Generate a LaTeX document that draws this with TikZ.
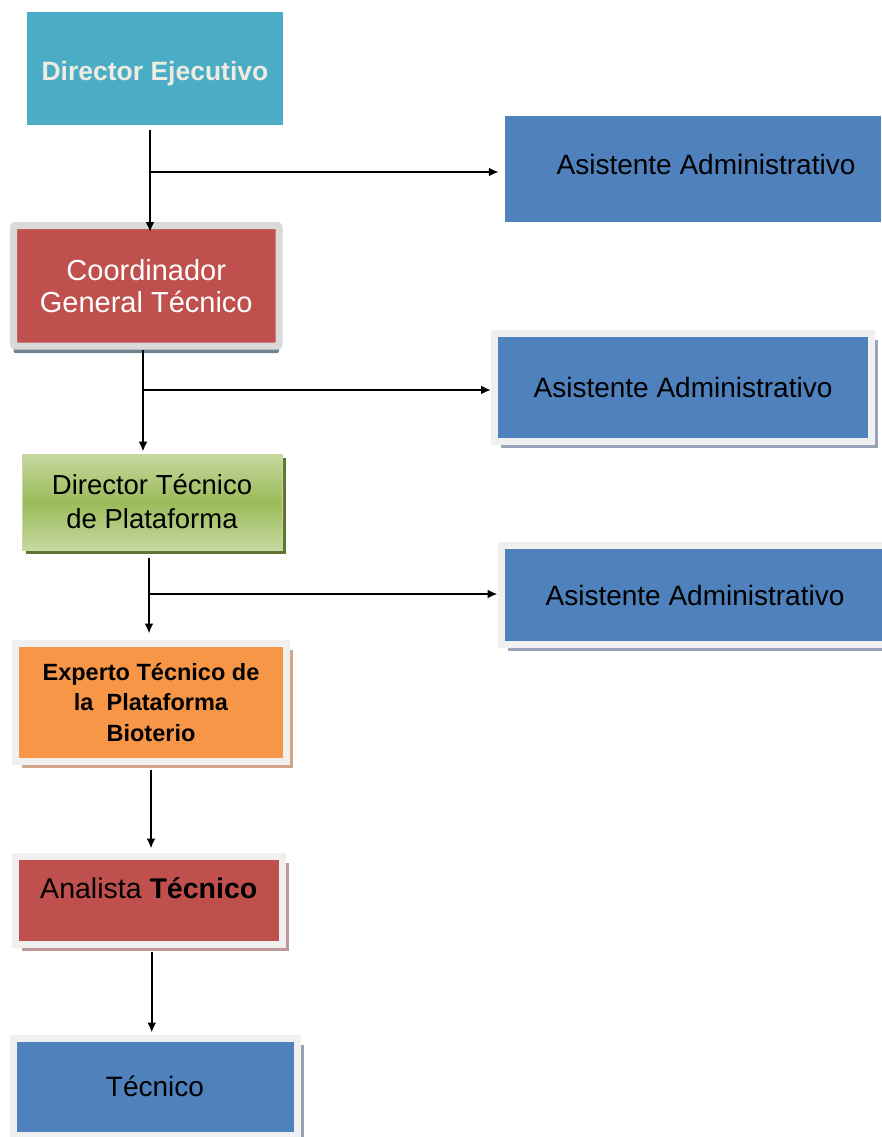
\documentclass[tikz,border=0pt]{standalone}
\usepackage{fontspec}
\setmainfont{Liberation Sans}
\usetikzlibrary{arrows.meta, shadows}

\definecolor{cTeal}{HTML}{4BACC6}
\definecolor{cCream}{HTML}{EEECE1}
\definecolor{cBlue}{HTML}{4F81BD}
\definecolor{cRed}{HTML}{C0504D}
\definecolor{cOrange}{HTML}{F79646}
\definecolor{cGreen}{HTML}{9BBB59}
\definecolor{cGreenL}{HTML}{C6D9A0}
\definecolor{cGreenD}{HTML}{5F7530}
\definecolor{cFrame}{HTML}{F0F0F0}
\definecolor{cFrameD}{HTML}{D9D9D9}
\definecolor{cShBlue}{HTML}{97A3B6}
\definecolor{cShSlate}{HTML}{6F8290}
\definecolor{cShTan}{HTML}{D4A686}
\definecolor{cShRose}{HTML}{BC9898}

\tikzset{
  box/.style={rectangle, inner sep=0pt, align=center,
    font=\fontsize{28}{33}\selectfont},
  framed/.style={box, draw=cFrame, line width=7pt},
  shad/.style={drop shadow={shadow xshift=#1, shadow yshift=-6.5pt, fill=cShBlue, opacity=1}},
  arr/.style={-{Latex[length=10pt,width=9pt]}, line width=2pt},
}

\begin{document}
\begin{tikzpicture}[x=1pt, y=-1pt]
    \useasboundingbox (0,0) rectangle (881,1137);

    % left column
    \node[box, fill=cTeal, text=cCream, minimum width=256pt, minimum height=113pt,
      text height=24pt, text depth=0pt,
      font=\fontsize{26.5}{30}\selectfont\bfseries] (dirEj) at (155,68.5) {Director Ejecutivo};
    \node[framed, draw=cFrameD, rounded corners=2pt, fill=cRed, text=white,
      minimum width=265.5pt, minimum height=120.5pt, font=\fontsize{29}{32}\selectfont,
      drop shadow={shadow xshift=0pt, shadow yshift=-7pt, fill=cShSlate, opacity=1}]
      (coord) at (146.25,285.75) {Coordinador\\General Técnico};
    \node[box, draw=cGreenL, line width=0.8pt, top color=cGreenL, bottom color=cGreenL,
      middle color=cGreen, minimum width=260pt, minimum height=96pt,
      font=\fontsize{27.5}{34}\selectfont,
      drop shadow={shadow xshift=4pt, shadow yshift=-4pt, fill=cGreenD, opacity=1}]
      (dirTec) at (152,502) {Director Técnico\\de Plataforma};
    \node[framed, fill=cOrange, minimum width=271pt, minimum height=118.5pt,
      font=\fontsize{23.5}{30.5}\selectfont\bfseries,
      drop shadow={shadow xshift=6.5pt, shadow yshift=-6.5pt, fill=cShTan, opacity=1}]
      (experto) at (151,702.25) {Experto Técnico de\\la\ \ Plataforma\\Bioterio};
    \node[framed, fill=cRed, minimum width=266.5pt, minimum height=88.5pt,
      text height=20pt, text depth=24pt, font=\fontsize{28.5}{33}\selectfont,
      drop shadow={shadow xshift=6.5pt, shadow yshift=-6.5pt, fill=cShRose, opacity=1}]
      (analista) at (148.75,900.25) {Analista \textbf{Técnico}};
    \node[framed, fill=cBlue, minimum width=284pt, minimum height=97pt, shad=6.5pt]
      (tecnico) at (155,1086.5) {Técnico};

    % right column
    \node[box, fill=cBlue, minimum width=376pt, minimum height=106pt,
      text height=20pt, text depth=10pt] (asisA) at (693,169) {\hspace*{26pt}Asistente Administrativo};
    \node[framed, fill=cBlue, minimum width=377pt, minimum height=107.5pt, shad=6.5pt]
      (asisB) at (683,387.25) {Asistente Administrativo};
    \node[framed, fill=cBlue, minimum width=388pt, minimum height=99pt, shad=6.5pt]
      (asisC) at (695,595) {Asistente Administrativo};

    % connectors
    \coordinate (jA) at (150,172);
    \coordinate (jB) at (143,390);
    \coordinate (jC) at (149,594);
    \draw[arr, shorten <=5pt, shorten >=-10pt] (jA |- dirEj.south) -- (jA |- coord.north);
    \draw[arr, shorten >=6pt] (jA) -- (jA -| asisA.west);
    \draw[arr, shorten >=2pt] (jB |- coord.south) -- (jB |- dirTec.north);
    \draw[arr] (jB) -- (jB -| asisB.west);
    \draw[arr, shorten <=8pt, shorten >=6pt] (jC |- dirTec.south) -- (jC |- experto.north);
    \draw[arr] (jC) -- (jC -| asisC.west);
    \draw[arr, shorten <=5pt, shorten >=4pt] (experto.south) -- (experto.south |- analista.north);
    \draw[arr, shorten <=4pt, shorten >=2pt] ([xshift=3pt]analista.south) -- ([xshift=3pt]analista.south |- tecnico.north);

\end{tikzpicture}
\end{document}
